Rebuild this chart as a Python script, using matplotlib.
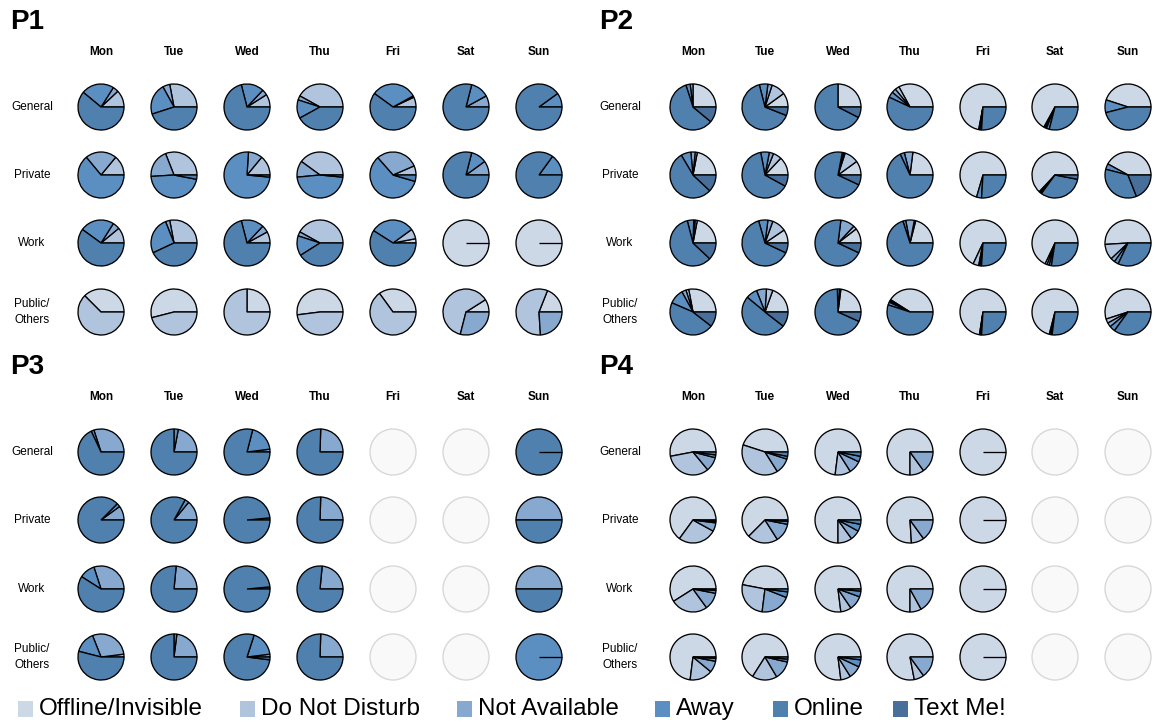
import matplotlib
matplotlib.use("Agg")
import matplotlib.pyplot as plt
from matplotlib.patches import Circle, Rectangle

# status categories, in the order the wedges are laid out (counter-clockwise from 3 o'clock)
statuses = ["Offline/Invisible", "Do Not Disturb", "Not Available", "Away", "Online", "Text Me!"]
status_colors = ["#cdd8e6", "#b0c4de", "#87a8cf", "#5b8fc1", "#4f80ae", "#476f99"]

days = ["Mon", "Tue", "Wed", "Thu", "Fri", "Sat", "Sun"]
groups = ["General", "Private", "Work", "Public/\nOthers"]

# share of time (%) per status: [offline, dnd, n/a, away, online, text me]; None = no data
p1_general = [[0, 12, 4, 23, 61, 0], [0, 28, 5, 22, 45, 0], [0, 9, 4, 16, 71, 0],
              [0, 42, 3, 13, 42, 0], [0, 7, 1, 32, 60, 0], [0, 0, 8, 13, 79, 0],
              [0, 0, 0, 10, 90, 0]]
p1_private = [[0, 14, 22, 64, 0, 0], [0, 31, 20, 46, 3, 0], [0, 14, 10, 74.5, 1.5, 0],
              [0, 40, 11.5, 47, 1.5, 0], [0, 6.5, 30, 59, 4.5, 0], [0, 0, 10, 11, 79, 0],
              [0, 0, 0, 15, 85, 0]]
p1_work = [[0, 11, 5, 24, 60, 0], [0, 28, 3, 26, 43, 0], [0, 8, 5, 16, 71, 0],
           [0, 42, 3, 14, 41, 0], [3, 7, 0, 31, 59, 0], [100, 0, 0, 0, 0, 0],
           [100, 0, 0, 0, 0, 0]]
p1_public = [[37.5, 62.5, 0, 0, 0, 0], [54, 46, 0, 0, 0, 0], [25, 75, 0, 0, 0, 0],
             [52, 48, 0, 0, 0, 0], [35, 65, 0, 0, 0, 0], [9, 62, 29, 0, 0, 0],
             [19, 57, 24, 0, 0, 0]]

p2_general = [[25, 0, 2, 3, 59, 11], [10, 10, 3, 6, 65, 6], [25, 0, 0, 0, 67.5, 7.5],
              [33, 3, 3, 4, 57, 0], [72, 0.5, 0.5, 1, 26, 0], [67, 1, 1, 2, 29, 0],
              [45, 0, 0, 9, 46, 0]]
p2_private = [[22, 1.5, 3, 7, 54.5, 12], [13, 6, 3, 6, 64, 8], [10, 10, 1, 1, 71, 7],
              [23, 0, 6, 3, 68, 0], [70.5, 0, 0, 3.5, 26, 0], [63, 1, 1, 0, 32, 3],
              [42, 0, 0, 4, 35, 19]]
p2_work = [[22, 1.5, 1, 4.5, 59, 12], [9.5, 10, 3.5, 6.5, 63.5, 7], [10.5, 2.5, 10, 0, 70, 7],
           [21, 1, 6, 2, 70, 0], [68, 4, 1, 1, 26, 0], [68, 1.5, 1.5, 1.5, 27.5, 0],
           [51, 11, 3, 3, 32, 0]]
p2_public = [[28, 2, 3, 10.5, 46, 10.5], [19.5, 4.5, 7, 8, 50.5, 10.5], [23, 0, 1, 1.5, 67.8, 6.7],
             [41, 1, 1, 2, 55, 0], [72.5, 0.5, 0.5, 0.5, 26, 0], [71, 1, 1, 0, 27, 0],
             [55, 3, 3, 4, 35, 0]]

p3_general = [[0, 0, 30, 2, 68, 0], [0, 0, 22, 3, 75, 0], [0, 0, 2, 19, 79, 0],
              [0, 0, 24.5, 0, 75.5, 0], None, None, [0, 0, 0, 0, 100, 0]]
p3_private = [[0, 0, 10, 2.5, 87.5, 0], [0, 0, 14, 3, 83, 0], [0, 0, 1.5, 0, 98.5, 0],
              [0, 0, 24.5, 0, 75.5, 0], None, None, [0, 0, 50, 0, 50, 0]]
p3_work = [[0, 0, 30, 11, 59, 0], [0, 0, 23.5, 0, 76.5, 0], [0, 0, 1.5, 0, 98.5, 0],
           [0, 0, 23.5, 0, 76.5, 0], None, None, [0, 0, 50, 0, 50, 0]]
p3_public = [[0, 2, 29, 15, 54, 0], [0, 0, 23, 2, 75, 0], [0, 0, 2, 18, 78, 2],
             [0, 0, 24.5, 0, 75.5, 0], None, None, [0, 0, 0, 100, 0, 0]]

p4_general = [[53, 33, 10, 2, 2, 0], [45, 39, 11, 2, 3, 0], [73, 11, 9, 4, 3, 0],
              [75, 10, 15, 0, 0, 0], [100, 0, 0, 0, 0, 0], None, None]
p4_private = [[65, 27, 6, 1, 1, 0], [62.5, 21.5, 13, 2, 1, 0], [75, 10, 7, 5, 3, 0],
              [76, 9, 15, 0, 0, 0], [100, 0, 0, 0, 0, 0], None, None]
p4_work = [[59, 26, 12, 2, 1, 0], [47, 26, 21, 4, 2, 0], [77, 7.5, 10, 4, 1.5, 0],
           [75, 8, 17, 0, 0, 0], [100, 0, 0, 0, 0, 0], None, None]
p4_public = [[73, 16, 8, 2, 1, 0], [66, 17.5, 13, 2, 1.5, 0], [77, 7, 9, 5, 2, 0],
             [78, 7, 15, 0, 0, 0], [100, 0, 0, 0, 0, 0], None, None]

participants = ["P1", "P2", "P3", "P4"]
panel_data = [
    [p1_general, p1_private, p1_work, p1_public],
    [p2_general, p2_private, p2_work, p2_public],
    [p3_general, p3_private, p3_work, p3_public],
    [p4_general, p4_private, p4_work, p4_public],
]

W, H = 1155, 722
fig = plt.figure(figsize=(W / 100, H / 100), dpi=100)
ax = fig.add_axes([0, 0, 1, 1])

plt.rcParams['font.family'] = ['Liberation Sans', 'DejaVu Sans']

# layout in pixel coordinates (y grows downward)
col_x = [[101, 174, 247, 320, 393, 466, 539], [693, 765, 838, 910, 983, 1055, 1128]]
row_y = [[107, 175, 243, 312], [452, 520, 589, 657]]
header_y = [52, 397]
title_pos = [(10, 22), (599, 22), (10, 367), (599, 367)]
label_x = [32, 620]
R = 23
edge = dict(edgecolor='black', linewidth=0.95)

for k, name in enumerate(participants):
    side = k % 2
    half = k // 2
    xs = col_x[side]
    ys = row_y[half]
    ax.text(title_pos[k][0], title_pos[k][1], name, fontsize=20, fontweight='bold',
            ha='left', va='center')
    for j, d in enumerate(days):
        ax.text(xs[j], header_y[half], d, fontsize=8.5, fontweight='bold',
                ha='center', va='center')
    for i, g in enumerate(groups):
        ax.text(label_x[side], ys[i], g, fontsize=8.5, ha='center', va='center',
                linespacing=1.5)
        for j in range(len(days)):
            vals = panel_data[k][i][j]
            cx, cy = xs[j], ys[i]
            if vals is None:
                ax.add_patch(Circle((cx, cy), R, facecolor='#f9f9f9',
                                    edgecolor='#d8d8d8', linewidth=1.0))
                continue
            v = [x for x in vals if x > 0]
            c = [status_colors[n] for n, x in enumerate(vals) if x > 0]
            ax.pie(v, colors=c, center=(cx, cy), radius=R, startangle=0,
                   counterclock=False, wedgeprops=edge)
            if len(v) == 1:
                # a single full wedge still shows its start edge at 3 o'clock
                ax.plot([cx, cx + R], [cy, cy], color='black', linewidth=0.95,
                        solid_capstyle='butt')

# legend along the bottom
legend_x = [18, 240, 457, 655, 773, 893]
for n, s in enumerate(statuses):
    ax.add_patch(Rectangle((legend_x[n], 701), 15, 16, facecolor=status_colors[n],
                           edgecolor='none'))
    ax.text(legend_x[n] + 21, 709, s, fontsize=17.5, ha='left', va='center')

ax.set_xlim(0, W)
ax.set_ylim(H, 0)
ax.set_aspect('equal')
ax.axis('off')

fig.savefig("out.png", dpi=100, facecolor='white')
